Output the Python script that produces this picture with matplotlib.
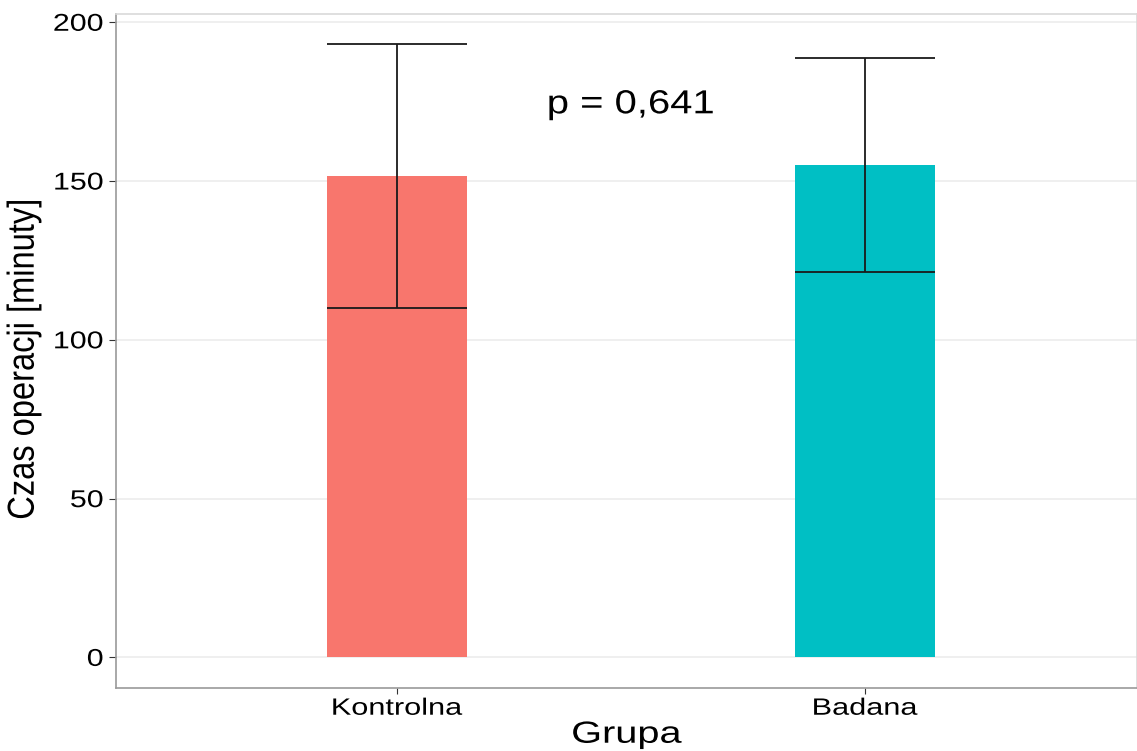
import numpy as np
import matplotlib
matplotlib.use("Agg")
import matplotlib.pyplot as plt
from matplotlib.patheffects import AbstractPathEffect
from matplotlib.transforms import Affine2D

plt.rcParams['font.family'] = ['Liberation Sans', 'DejaVu Sans']

# dane
grupy = ["Kontrolna", "Badana"]
srednie = [151.5, 155.0]
sd = [41.6, 33.7]
kolory = ["#F8766D", "#00BFC4"]
p_tekst = "p = 0,641"


class Rozciagnij(AbstractPathEffect):
    # tekst w oryginale jest rozciagniety w poziomie
    def __init__(self, sx, kotwica='center'):
        super().__init__()
        self.sx = sx
        self.kotwica = kotwica

    def draw_path(self, renderer, gc, tpath, affine, rgbFace=None):
        ext = tpath.get_extents(affine)
        if self.kotwica == 'right':
            cx = ext.x1
        else:
            cx = (ext.x0 + ext.x1) / 2
        t = affine + Affine2D().translate(-cx, 0).scale(self.sx, 1).translate(cx, 0)
        renderer.draw_path(gc, tpath, t, rgbFace)


fig = plt.figure(figsize=(11.37, 7.51), dpi=100)
ax = fig.add_axes([116 / 1137, 1 - 688 / 751, (1137 - 116) / 1137, (688 - 14) / 751])

x = np.arange(1, len(grupy) + 1)
ax.bar(x, srednie, width=0.3, color=kolory, zorder=2)
ax.errorbar(x, srednie, yerr=sd, fmt='none', ecolor='#1a1a1a', elinewidth=1.3,
            capsize=50.4, capthick=1.3, zorder=3)

t = ax.text(1.5, 174, p_tekst, fontsize=24, ha='center', va='center')
t.set_path_effects([Rozciagnij(1.2)])

ax.set_xlim(0.4, 0.4 + 1021 / 468)
ax.set_ylim(-9.65, 202.6)
ax.set_xticks(x)
ax.set_xticklabels(grupy, fontsize=17)
ax.set_yticks([0, 50, 100, 150, 200])
ax.tick_params(axis='y', labelsize=17.5, length=5, color='#333333', pad=4)
ax.tick_params(axis='x', length=4, color='#333333', pad=3)
for lab in ax.get_yticklabels():
    lab.set_path_effects([Rozciagnij(1.25, 'right')])
for lab in ax.get_xticklabels():
    lab.set_path_effects([Rozciagnij(1.3)])
ax.yaxis.grid(True, color='#ebebeb', linewidth=1.1, zorder=0)
ax.set_axisbelow(True)

ax.set_xlabel("Grupa", fontsize=22, labelpad=0)
ax.set_ylabel("Czas operacji [minuty]", fontsize=23.5)
ax.yaxis.set_label_coords(-0.075, 0.488)
ax.xaxis.label.set_path_effects([Rozciagnij(1.3)])
ax.yaxis.label.set_path_effects([Rozciagnij(1.15)])

ax.spines['left'].set_color('#9a9a9a')
ax.spines['bottom'].set_color('#9a9a9a')
ax.spines['top'].set_color('#d9d9d9')
ax.spines['right'].set_color('#d9d9d9')
for s in ax.spines.values():
    s.set_linewidth(1.2)

fig.savefig("out.png", dpi=100)
